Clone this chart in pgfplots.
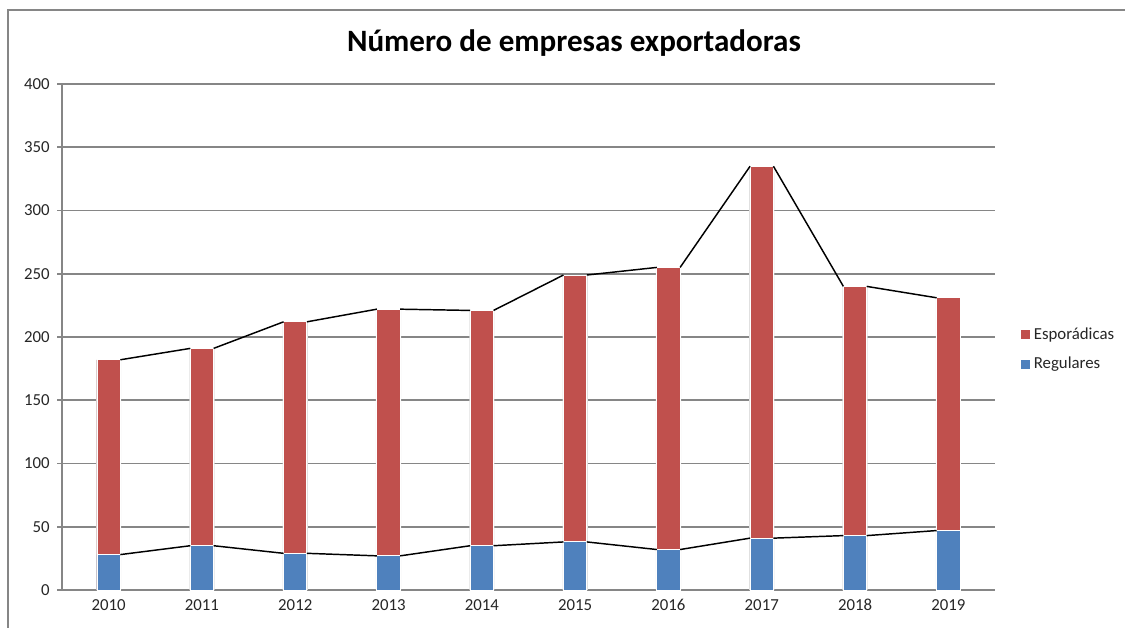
\documentclass[border=0pt]{standalone}
\usepackage{fontspec}
\setmainfont{Carlito}
\usepackage{pgfplots}
\pgfplotsset{compat=1.18}
\definecolor{esp}{HTML}{C0504D}
\definecolor{reg}{HTML}{4F81BD}
\definecolor{gridc}{HTML}{868686}
\begin{document}
\begin{tikzpicture}
\path[use as bounding box] (0,0) rectangle (843.75pt,-471pt);
\draw[gridc, line width=1.2pt] (6pt,-471pt)--(6pt,-7.5pt)--(843.75pt,-7.5pt);
\node[font=\fontsize{23.3}{28}\selectfont\bfseries] at (430.5pt,-32.25pt) {Número de empresas exportadoras};
\begin{axis}[
  at={(46.5pt,-442.5pt)}, anchor=south west,
  scale only axis, width=699.75pt, height=379.5pt,
  xmin=-0.5, xmax=9.5, ymin=0, ymax=400,
  xtick={0,...,9},
  xticklabels={2010,2011,2012,2013,2014,2015,2016,2017,2018,2019},
  ytick={0,50,...,400},
  axis x line*=bottom, axis y line*=left,
  axis line style={gridc, line width=1.3pt},
  ymajorgrids, grid style={gridc, line width=1.3pt},
  tick align=outside,
  ytick style={gridc, line width=1.3pt}, major tick length=3.75pt,
  xtick style={draw=none},
  tick label style={font=\fontsize{12.6}{14}\selectfont, text=black!85},
  yticklabel style={xshift=-2pt},
  xticklabel style={text height=9pt, text depth=1pt, yshift=1pt},
  /pgf/number format/assume math mode=true,
  legend style={draw=none, at={(1.0225,0.476)}, anchor=west,
    font=\fontsize{12.6}{14}\selectfont, row sep=8pt, text=black!85},
  legend cell align=left,
  legend image code/.code={\fill[#1] (0pt,-3.75pt) rectangle (7.5pt,3.75pt);},
]
% totals (Regulares + Esporadicas): red visible part = Esporadicas
\addplot[ybar, bar width=0.27, bar shift=0pt, fill=black!12, draw=none, forget plot] coordinates {
 (0,182) (1,191) (2,212) (3,222) (4,221) (5,249) (6,255) (7,335) (8,240) (9,231)};
\addplot[ybar, bar width=0.25, bar shift=0pt, fill=esp, draw=white, line width=0.7pt] coordinates {
 (0,182) (1,191) (2,212) (3,222) (4,221) (5,249) (6,255) (7,335) (8,240) (9,231)};
\addlegendentry{Esporádicas}
\addplot[ybar, bar width=0.25, bar shift=0pt, fill=reg, draw=white, line width=0.7pt] coordinates {
 (0,28) (1,35) (2,29) (3,27) (4,35) (5,38) (6,32) (7,41) (8,43) (9,47)};
\addlegendentry{Regulares}
\addplot[black, line width=1.1pt, unbounded coords=jump, forget plot] table {
x y
0.125 182
0.875 191
0.5 nan
1.125 191
1.875 212
1.5 nan
2.125 212
2.875 222
2.5 nan
3.125 222
3.875 221
3.5 nan
4.125 221
4.875 249
4.5 nan
5.125 249
5.875 255
5.5 nan
6.125 255
6.875 335
6.5 nan
7.125 335
7.875 240
7.5 nan
8.125 240
8.875 231
};
\addplot[black, line width=1.1pt, unbounded coords=jump, forget plot] table {
x y
0.125 28
0.875 35
0.5 nan
1.125 35
1.875 29
1.5 nan
2.125 29
2.875 27
2.5 nan
3.125 27
3.875 35
3.5 nan
4.125 35
4.875 38
4.5 nan
5.125 38
5.875 32
5.5 nan
6.125 32
6.875 41
6.5 nan
7.125 41
7.875 43
7.5 nan
8.125 43
8.875 47
};
\end{axis}
\end{tikzpicture}
\end{document}
